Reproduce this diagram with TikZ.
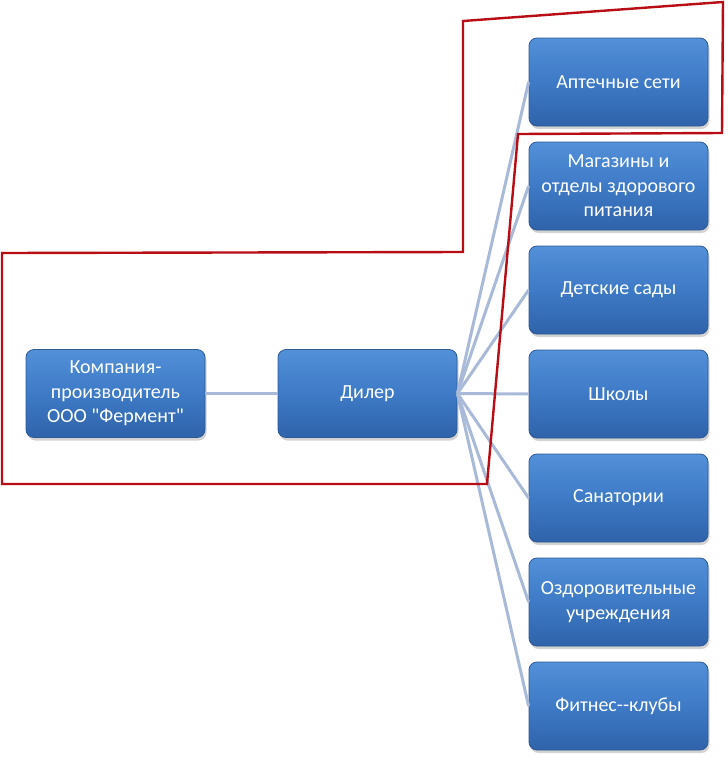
\documentclass[tikz,border=0pt]{standalone}
\usepackage{fontspec}
\setmainfont{Carlito}[Ligatures=TeXOff]
\usetikzlibrary{shadows}
\definecolor{boxTop}{HTML}{5290D8}
\definecolor{boxMid}{HTML}{3E7AC6}
\definecolor{boxBot}{HTML}{2F63AA}
\definecolor{boxEdge}{HTML}{2C5A96}
\definecolor{linkBlue}{HTML}{A9BAD8}
\definecolor{zoneRed}{HTML}{B80D14}
\tikzset{
  every node/.style={font=\fontsize{20}{24.5}\selectfont},
  unit/.style={draw=boxEdge, line width=0.8pt, rounded corners=8pt,
               top color=boxTop, bottom color=boxBot, middle color=boxMid,
               text=white, align=center,
               minimum width=179pt, minimum height=88pt, inner sep=2pt,
               drop shadow={shadow xshift=1.5pt, shadow yshift=-3pt, opacity=0.35}},
  link/.style={draw=linkBlue, line width=3pt},
  zone/.style={draw=zoneRed, line width=2.4pt, line join=miter},
}

\begin{document}
\begin{tikzpicture}[x=1pt, y=-1pt]
  \useasboundingbox (0,0) rectangle (728,761);
  % producer and dealer
  \node[unit] (comp) at (115.5,393.5) {Компания-\\производитель\\ООО "Фермент"};
  \node[unit] (dil) at (367.5,393.5) {Дилер};
  % sales channels
  \node[unit] (r1) at (618.5,82) {Аптечные сети};
  \node[unit] (r2) at (618.5,186) {Магазины и\\отделы здорового\\питания};
  \node[unit] (r3) at (618.5,290) {Детские сады};
  \node[unit] (r4) at (618.5,394) {Школы};
  \node[unit] (r5) at (618.5,498) {Санатории};
  \node[unit] (r6) at (618.5,602) {Оздоровительные\\учреждения};
  \node[unit] (r7) at (618.5,706) {Фитнес--клубы};
  \draw[link] (comp.east) -- (dil.west);
  \foreach \n in {r1,r2,r3,r4,r5,r6,r7}
    \draw[link] (dil.east) -- (\n.west);
  % highlighted area
  \draw[zone] (463,21) -- (723,2) -- (722,133) -- (518,134) -- (487,484)
    -- (2,484) -- (2,253) -- (463,252) -- cycle;
\end{tikzpicture}
\end{document}
